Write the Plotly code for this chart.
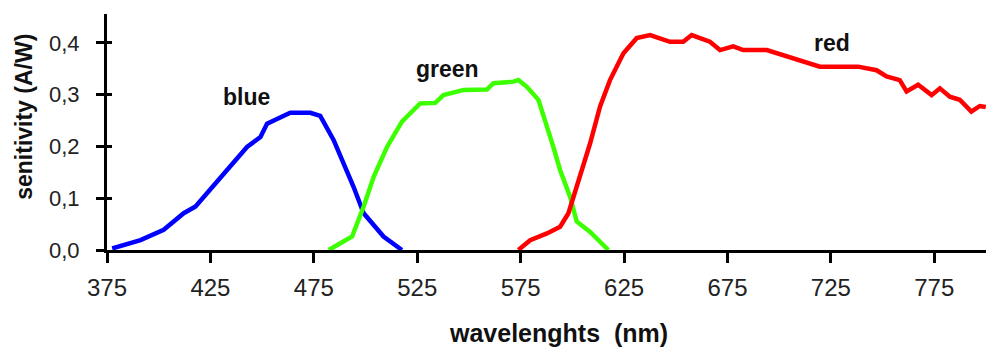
import plotly.graph_objects as go

# ---- data ----
blue_nm = [377.5, 391.2, 402.4, 412.1, 417.8, 429.8, 442.7, 449.2, 452.4, 463.6,
           473.3, 478.1, 484.6, 494.2, 499.1, 508.7, 517.6]
blue_sens = [0.003, 0.019, 0.039, 0.071, 0.084, 0.138, 0.199, 0.218, 0.244, 0.265,
             0.265, 0.259, 0.212, 0.122, 0.071, 0.026, 0.0]

green_nm = [482.2, 493.5, 499.1, 503.9, 510.4, 517.6, 526.4, 533.7, 537.7, 547.4,
            558.7, 561.9, 571.5, 573.9, 578.0, 583.6, 590.8, 594.1, 598.9, 602.1,
            608.6, 617.4]
green_sens = [0.0, 0.026, 0.084, 0.141, 0.199, 0.248, 0.283, 0.284, 0.299, 0.309,
              0.310, 0.322, 0.325, 0.328, 0.315, 0.290, 0.199, 0.154, 0.103, 0.055,
              0.035, 0.0]

red_nm = [573.9, 579.6, 587.7, 594.1, 598.1, 603.7, 608.6, 613.4, 618.2, 624.7,
          631.1, 637.6, 647.2, 653.6, 657.7, 666.5, 671.4, 677.8, 682.6, 694.0,
          702.0, 710.0, 719.7, 738.2, 747.1, 751.9, 758.3, 761.6, 767.2, 773.7,
          777.7, 782.5, 787.3, 792.9, 797.0, 799.9]
red_sens = [0.0, 0.019, 0.032, 0.045, 0.071, 0.141, 0.206, 0.277, 0.328, 0.380,
            0.409, 0.415, 0.402, 0.402, 0.415, 0.402, 0.386, 0.393, 0.386, 0.386,
            0.376, 0.367, 0.354, 0.354, 0.347, 0.335, 0.328, 0.306, 0.319, 0.299,
            0.312, 0.296, 0.290, 0.267, 0.278, 0.276]

x_ticks = [375, 425, 475, 525, 575, 625, 675, 725, 775]
y_ticks = [0.0, 0.1, 0.2, 0.3, 0.4]

labels = ["blue", "green", "red"]
label_x = [442.6, 539.7, 725.7]
label_y = [0.295, 0.350, 0.400]

X_RANGE = [375, 800]
Y_RANGE = [0, 0.4556]

FONT = "Arial, Liberation Sans, sans-serif"

fig = go.Figure()
series = [(blue_nm, blue_sens, "#0000FF"),
          (green_nm, green_sens, "#3CFF00"),
          (red_nm, red_sens, "#FF0000")]
for xs, ys, col in series:
    fig.add_trace(go.Scatter(x=xs, y=ys, mode="lines",
                             line=dict(color=col, width=4.5),
                             showlegend=False, hoverinfo="skip"))
# empty trace to activate the overlay axis (inner part of the crossing y ticks)
fig.add_trace(go.Scatter(x=[], y=[], yaxis="y2", showlegend=False, hoverinfo="skip"))

for txt, lx, ly in zip(labels, label_x, label_y):
    fig.add_annotation(x=lx, y=ly, text="<b>" + txt + "</b>", showarrow=False,
                       font=dict(family=FONT, size=23, color="#111111"),
                       xanchor="center", yanchor="middle")

# axis titles
fig.add_annotation(xref="paper", yref="paper", x=0.514, y=-0.352,
                   text="<b>wavelenghts&nbsp;&nbsp;(nm)</b>", showarrow=False,
                   font=dict(family=FONT, size=25, color="#111111"),
                   xanchor="center", yanchor="middle")
fig.add_annotation(xref="paper", yref="paper", x=-0.094, y=0.566,
                   text="<b>senitivity (A/W)</b>", showarrow=False, textangle=-90,
                   font=dict(family=FONT, size=23, color="#111111"),
                   xanchor="center", yanchor="middle")

fig.update_layout(
    width=986, height=347,
    margin=dict(l=107, r=0, t=14, b=97),
    paper_bgcolor="white", plot_bgcolor="white",
    separators=",.",
    font=dict(family=FONT, color="#111111"),
    xaxis=dict(range=X_RANGE, tickvals=x_ticks, ticks="outside", ticklen=10,
               tickwidth=3, tickcolor="black", showline=True, linewidth=3,
               linecolor="black", showgrid=False, zeroline=False,
               tickfont=dict(size=24, color="#222222"), ticklabelstandoff=4),
    yaxis=dict(range=Y_RANGE, tickvals=y_ticks, tickformat=".1f", ticks="outside",
               ticklen=8, tickwidth=3, tickcolor="black", showline=True,
               linewidth=3, linecolor="black", showgrid=False, zeroline=False,
               tickfont=dict(size=22, color="#222222"), ticklabelstandoff=12),
    yaxis2=dict(range=Y_RANGE, overlaying="y", side="left", tickvals=y_ticks,
                ticks="inside", ticklen=5, tickwidth=3, tickcolor="black",
                showticklabels=False, showline=False, showgrid=False,
                zeroline=False),
)

fig.write_html("out.html", config={"displayModeBar": False},
               post_script="document.body.style.margin='0';document.body.style.padding='0';document.body.style.overflow='hidden';")
